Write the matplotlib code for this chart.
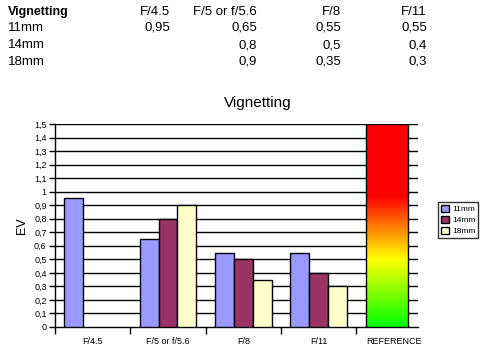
import numpy as np
import matplotlib
matplotlib.use("Agg")
import matplotlib.pyplot as plt
from matplotlib.colors import LinearSegmentedColormap
from matplotlib.patches import Rectangle

plt.rcParams['font.family'] = ['Liberation Sans', 'DejaVu Sans']

categories = ["F/4.5", "F/5 or f/5.6", "F/8", "F/11"]
series_names = ["11mm", "14mm", "18mm"]
v11 = [0.95, 0.65, 0.55, 0.55]
v14 = [np.nan, 0.8, 0.5, 0.4]
v18 = [np.nan, 0.9, 0.35, 0.3]
reference_label = "REFERENCE"
reference_value = 1.5
colors = ["#9999FF", "#993366", "#FFFFCC"]

def fmt(v):
    if np.isnan(v):
        return ""
    s = ("%g" % v).replace(".", ",")
    return s

fig = plt.figure(figsize=(5.0, 3.51), dpi=100)

# Table at top
fig.text(8/500, 1-12/351, "Vignetting", fontsize=9, fontweight='bold', va='center', ha='left')
col_right = [170, 257, 341, 427]
for c, xr in zip(categories, col_right):
    fig.text(xr/500, 1-12/351, c, fontsize=9.5, va='center', ha='right')
row_y = [28, 45, 62]
for name, vals, yy in zip(series_names, [v11, v14, v18], row_y):
    fig.text(8/500, 1-yy/351, name, fontsize=9.5, va='center', ha='left')
    for v, xr in zip(vals, col_right):
        fig.text(xr/500, 1-yy/351, fmt(v), fontsize=9.5, va='center', ha='right')

ax = fig.add_axes([55/500, 1-327/351, (418-55)/500, (327-124)/351])
ax.set_xlim(0, 4.82)
ax.set_ylim(0, 1.5)

bw = 0.25
for i, vals in enumerate([v11, v14, v18]):
    x = np.arange(len(categories)) + 0.25 + i*bw
    ax.bar(x, vals, width=bw, color=colors[i], edgecolor='black', linewidth=1, zorder=3, label=series_names[i])

# reference gradient bar
cmap = LinearSegmentedColormap.from_list("ref", [(0, "#00FF00"), (0.5/1.5, "#FFFF00"), (0.97/1.5, "#FF0000"), (1.0, "#FF0000")])
grad = np.linspace(0, 1, 256).reshape(-1, 1)
x0, x1 = 4.13, 4.69
ax.imshow(grad, extent=(x0, x1, 0, reference_value), origin='lower', aspect='auto', cmap=cmap, zorder=3)
ax.add_patch(Rectangle((x0, 0), x1-x0, reference_value, fill=False, edgecolor='black', linewidth=1, zorder=4))
ax.set_xlim(0, 4.82)
ax.set_ylim(0, 1.5)

yt = np.round(np.arange(0, 1.51, 0.1), 1)
ax.set_yticks(yt)
ax.set_yticklabels([("%g" % t).replace(".", ",") for t in yt], fontsize=6.5)
for t in yt[1:]:
    ax.axhline(t, color='black', linewidth=1, zorder=1)

ax.set_xticks([0, 1, 2, 3, 4])
ax.set_xticklabels([])
ax.set_xticks([0.5, 1.5, 2.5, 3.5, 4.5], minor=True)
ax.set_xticklabels(categories + [reference_label], minor=True, fontsize=6.5)
ax.tick_params(axis='x', which='minor', length=0, pad=7)
ax.tick_params(axis='x', which='major', length=5, width=1, color='black')
ax.tick_params(axis='y', length=4, width=1, pad=2)

for s in ['top', 'right']:
    ax.spines[s].set_visible(False)
ax.spines['left'].set_linewidth(1)
ax.spines['bottom'].set_linewidth(1)

ax.set_ylabel("EV", fontsize=9, labelpad=4)
fig.text(258/500, 1-103/351, "Vignetting", fontsize=11, ha='center', va='center')

leg = fig.legend(loc='upper left', bbox_to_anchor=(438/500, 1-202/351), fontsize=6,
                 frameon=True, fancybox=False, edgecolor='black', handlelength=1.0, handleheight=1.0,
                 borderpad=0.3, labelspacing=0.3, handletextpad=0.4, borderaxespad=0)
leg.get_frame().set_linewidth(1)

fig.savefig("out.png", dpi=100)
